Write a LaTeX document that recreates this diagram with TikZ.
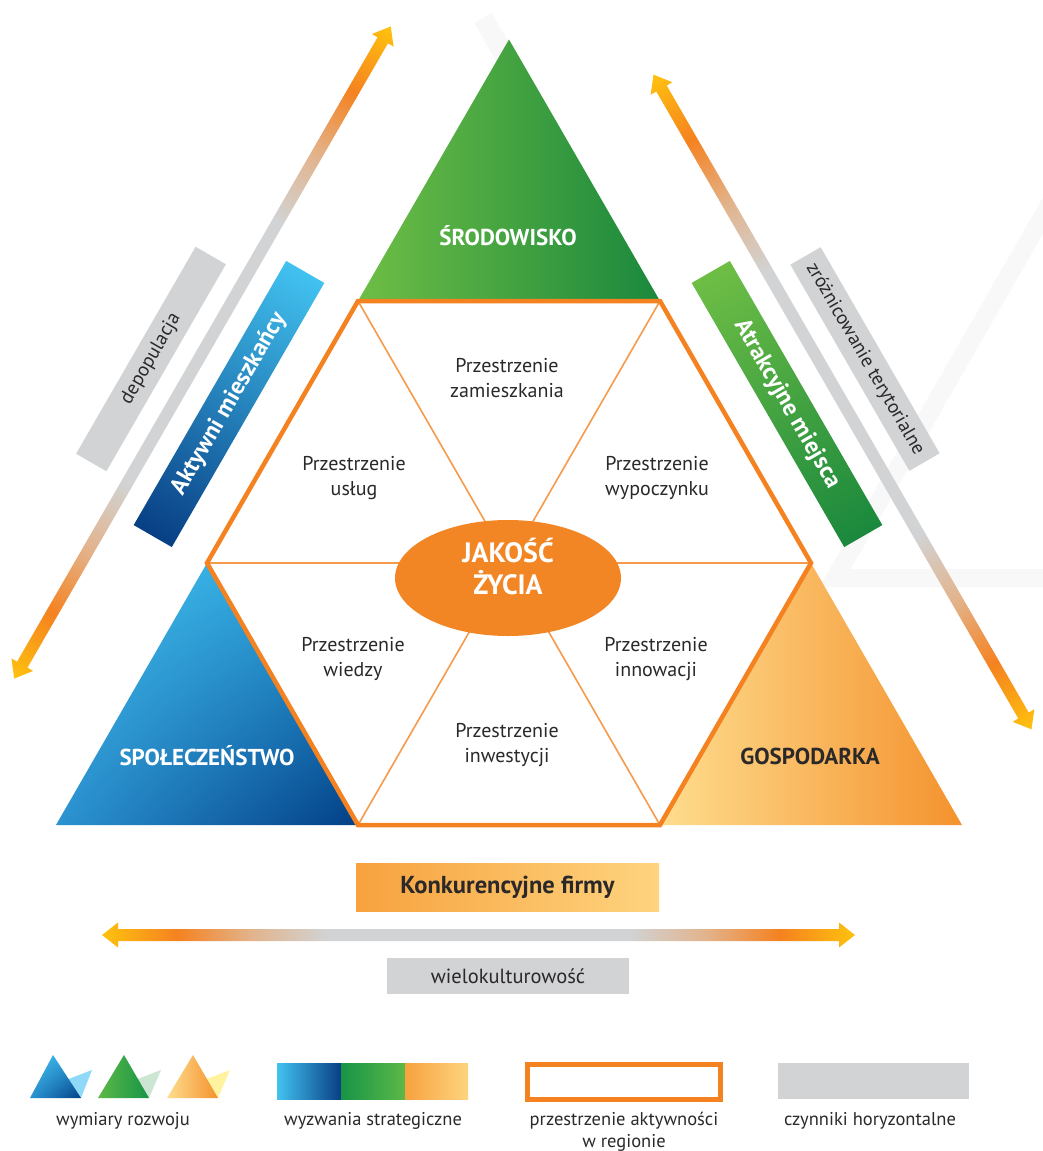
\documentclass[tikz,border=0pt]{standalone}
\usepackage{fontspec}
\setmainfont{PT Sans}
\usetikzlibrary{shapes.geometric,shadings}
\definecolor{ayel}{HTML}{FFC20E}
\definecolor{aorg}{HTML}{F58220}
\definecolor{abei}{HTML}{E2B48E}
\definecolor{agray}{HTML}{D1D3D4}
\definecolor{hexor}{HTML}{F58220}
\definecolor{spoke}{HTML}{F69A4C}
\definecolor{ellor}{HTML}{F28524}
\definecolor{txt}{HTML}{2B2829}
\definecolor{faint}{HTML}{F8F8F8}
\definecolor{gL}{HTML}{6EBE45}\definecolor{gM}{HTML}{22A24A}\definecolor{gD}{HTML}{1A883D}
\definecolor{bL}{HTML}{42C2F0}\definecolor{bM}{HTML}{0A66AC}\definecolor{bD}{HTML}{083F84}
\definecolor{bUL}{HTML}{45C3F0}\definecolor{bUR}{HTML}{2A9ED9}\definecolor{bLL}{HTML}{2B93D1}\definecolor{bLR}{HTML}{023F86}
\definecolor{oL}{HTML}{FEDD8E}\definecolor{oM}{HTML}{FBBA62}\definecolor{oD}{HTML}{F4922E}
\definecolor{kL}{HTML}{F7A23E}\definecolor{kR}{HTML}{FED47F}
\definecolor{shB}{HTML}{8ED8F8}\definecolor{shG}{HTML}{CDE6D3}\definecolor{shO}{HTML}{FFF3A0}
\definecolor{lgL}{HTML}{5CB947}\definecolor{lgD}{HTML}{179447}
\pgfdeclarehorizontalshading{arrowshade}{100bp}{color(0bp)=(ayel); color(25bp)=(ayel); color(30bp)=(aorg); color(35bp)=(abei); color(40bp)=(agray); color(60bp)=(agray); color(65bp)=(abei); color(70bp)=(aorg); color(75bp)=(ayel); color(100bp)=(ayel)}
\newcommand\gradarrow[1]{%
  \shade[shading=arrowshade] (-#1,0) -- (-#1+16,-12.5) -- (-#1+16,-6) -- (#1-16,-6) -- (#1-16,-12.5) -- (#1,0) -- (#1-16,12.5) -- (#1-16,6) -- (-#1+16,6) -- (-#1+16,12.5) -- cycle;}
\begin{document}
\begin{tikzpicture}[x=1pt,y=-1pt,
  spc/.style={font=\fontsize{20}{25}\selectfont, text=txt, align=center},
  dimlbl/.style={font=\fontsize{23}{27}\selectfont\bfseries, align=center},
  legtxt/.style={font=\fontsize{18.5}{22}\selectfont, text=txt, align=center},
  rbox/.style={inner sep=0pt, align=center},
  spk/.style={draw=spoke, line width=1.6pt}
]
\useasboundingbox[fill=white] (0,0) rectangle (1042,1151);

% faint watermark bands
\draw[faint, line width=20pt] (483,18) -- (630,273);
\draw[faint, line width=18pt, line join=miter] (1072,165) -- (835,578) -- (1050,578);

% gradient arrows
\begin{scope}[transform canvas={xshift=202.5pt, yshift=-352.5pt, rotate=60}]
  \gradarrow{376.5}
\end{scope}
\begin{scope}[transform canvas={xshift=842.5pt, yshift=-402pt, rotate=-60}]
  \gradarrow{378}
\end{scope}
\begin{scope}[transform canvas={xshift=478.5pt, yshift=-935pt}]
  \gradarrow{376.5}
\end{scope}

% rotated boxes
\begin{scope}[transform canvas={xshift=151pt, yshift=-359pt, rotate=60}]
  \node[rbox, fill=agray, minimum width=239pt, minimum height=35pt, text=txt, font=\fontsize{19.5}{22}\selectfont] (depop) at (0,0) {depopulacja};
\end{scope}
\begin{scope}[transform canvas={xshift=229pt, yshift=-404pt, rotate=60}]
  \node[rbox, left color=bD, middle color=bM, right color=bL, minimum width=305pt, minimum height=44pt, text=white, font=\fontsize{24}{27}\selectfont\bfseries] (aktywni) at (0,0) {Aktywni mieszkańcy};
\end{scope}
\begin{scope}[transform canvas={xshift=787pt, yshift=-404pt, rotate=-60}]
  \node[rbox, left color=gL, middle color=gM, right color=gD, minimum width=305pt, minimum height=44pt, text=white, font=\fontsize{24}{27}\selectfont\bfseries] (atrak) at (0,0) {Atrakcyjne miejsca};
\end{scope}
\begin{scope}[transform canvas={xshift=865pt, yshift=-359pt, rotate=-60}]
  \node[rbox, fill=agray, minimum width=238pt, minimum height=35pt, text=txt, font=\fontsize{19.3}{22}\selectfont] (zroz) at (0,0) {zróżnicowanie terytorialne};
\end{scope}

% dimension triangles
\shade[left color=gL, middle color=gM, right color=gD] (358,301) -- (509,39.5) -- (660,301) -- cycle;
\shade[upper left=bUL, upper right=bUR, lower left=bLL, lower right=bLR] (56,825) -- (207,563) -- (358,825) -- cycle;
\shade[left color=oL, middle color=oM, right color=oD] (660,825) -- (811,563) -- (962,825) -- cycle;

% hexagon
\fill[white] (358,301) -- (660,301) -- (811,563) -- (660,825) -- (358,825) -- (207,563) -- cycle;
\coordinate (hc) at (509,563);
\coordinate (v1) at (358,301);
\coordinate (v2) at (660,301);
\coordinate (v3) at (811,563);
\coordinate (v4) at (660,825);
\coordinate (v5) at (358,825);
\coordinate (v6) at (207,563);
\foreach \v in {v1,v2,v3,v4,v5,v6} \draw[spk] (\v) -- (hc);
\draw[hexor, line width=4.5pt, line join=miter] (v1) -- (v2) -- (v3) -- (v4) -- (v5) -- (v6) -- cycle;

% centre ellipse
\node[ellipse, fill=ellor, minimum width=226pt, minimum height=116pt, inner sep=0pt] (jak) at (508,578) {};
\node[font=\fontsize{28}{32}\selectfont\bfseries, text=white, align=center] (jaktxt) at (508,567) {JAKOŚĆ\\ŻYCIA};

% spaces
\node[spc] (pzam) at (507,378) {Przestrzenie\\zamieszkania};
\node[spc] (pusl) at (354,478) {Przestrzenie\\usług};
\node[spc] (pwyp) at (657,478) {Przestrzenie\\wypoczynku};
\node[spc] (pwie) at (353,659) {Przestrzenie\\wiedzy};
\node[spc] (pinn) at (656,659) {Przestrzenie\\innowacji};
\node[spc] (pinw) at (507,745) {Przestrzenie\\inwestycji};

% dimension labels
\node[dimlbl, text=white] (srod) at (508,236) {ŚRODOWISKO};
\node[dimlbl, text=white] (spol) at (207,756) {SPOŁECZEŃSTWO};
\node[dimlbl, text=txt] (gosp) at (810,756) {GOSPODARKA};

% bottom boxes
\node[rbox, left color=kL, right color=kR, minimum width=303pt, minimum height=48pt, text=txt, font=\fontsize{24.5}{28}\selectfont\bfseries] (konk) at (507.5,887) {Konkurencyjne firmy};
\node[rbox, fill=agray, minimum width=242pt, minimum height=36pt, text=txt, font=\fontsize{20.5}{23}\selectfont] (wielo) at (508,976) {wielokulturowość};

% legend
\fill[shB] (66,1080) -- (92,1070) -- (81,1098) -- cycle;
\shade[upper left=bUL, upper right=bUR, lower left=bLL, lower right=bLR] (30,1098) -- (53,1055) -- (81,1098) -- cycle;
\fill[shG] (135,1080) -- (161,1070) -- (149,1098) -- cycle;
\shade[left color=lgL, right color=lgD] (98,1098) -- (124,1055) -- (149,1098) -- cycle;
\fill[shO] (204,1080) -- (230,1070) -- (218,1098) -- cycle;
\shade[left color=oL, right color=oD] (167,1098) -- (193,1055) -- (218,1098) -- cycle;
\node[legtxt] (l1) at (123,1121) {wymiary rozwoju};

\shade[left color=bL, right color=bD] (277,1063) rectangle (341,1099);
\shade[left color=lgD, right color=lgL] (341,1063) rectangle (405,1099);
\shade[left color=kL, right color=kR] (405,1063) rectangle (468,1099);
\node[legtxt] (l2) at (373,1121) {wyzwania strategiczne};

\draw[hexor, line width=5pt] (527,1064.5) rectangle (720,1099.5);
\node[legtxt] (l3) at (624,1132) {przestrzenie aktywności\\w regionie};

\fill[agray] (778,1063) rectangle (969,1099);
\node[legtxt] (l4) at (870,1121) {czynniki horyzontalne};
\end{tikzpicture}
\end{document}
